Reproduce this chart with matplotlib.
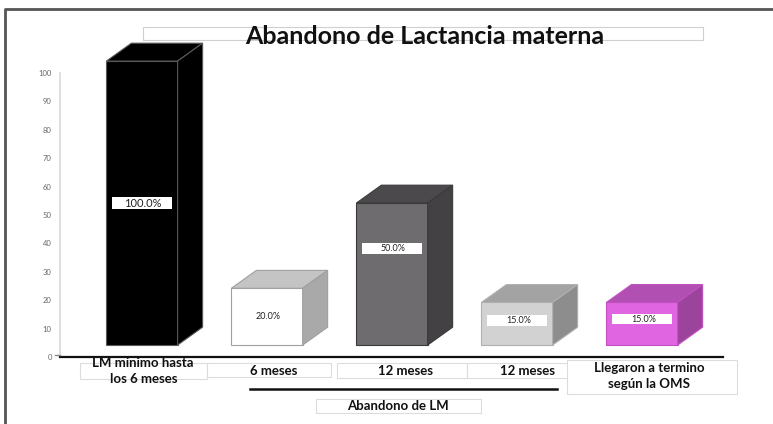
import matplotlib
matplotlib.use("Agg")
import matplotlib.pyplot as plt
from matplotlib.patches import Polygon, Rectangle
from matplotlib.lines import Line2D
from matplotlib.transforms import Affine2D, blended_transform_factory

plt.rcParams['font.family'] = ['Lato', 'DejaVu Sans']

# data
categories = ["LM mínimo hasta\nlos 6 meses", "6 meses", "12 meses", "12 meses",
              "Llegaron a termino\nsegún la OMS"]
values = [100, 20, 50, 15, 15]
value_labels = ["100.0%", "20.0%", "50.0%", "15.0%", "15.0%"]
group_label = "Abandono de LM"
title = "Abandono de Lactancia materna"

# styles: front, top, side
front_cols = ["#000000", "#ffffff", "#6f6c6f", "#d2d2d2", "#e065e0"]
top_cols = ["#000000", "#c4c4c4", "#4b494b", "#a3a3a3", "#b24fb2"]
side_cols = ["#000000", "#a9a9a9", "#434143", "#8d8d8d", "#9c449c"]
edge_cols = ["#5a5a5a", "#a0a0a0", "#3a3a3a", "#b0b0b0", "#c050c0"]
label_frac = [0.5, 0.5, 0.68, 0.57, 0.61]
label_box = [True, False, True, True, True]

W, H = 773, 424
fig = plt.figure(figsize=(W / 100, H / 100), dpi=100)
px = Affine2D().scale(1 / W, -1 / H).translate(0, 1) + fig.transFigure

ax = fig.add_axes([60 / W, (H - 357) / H, 663 / W, 284 / H])
ax.set_xlim(-0.656, 4.648)
ax.set_ylim(0, 100)

bw = 0.57
dx, dy = 0.2, 6.3
base = 4.2

xs = list(range(len(values)))
ax.bar(xs, values, width=bw, bottom=base, color=front_cols, edgecolor=edge_cols,
       linewidth=0.8, clip_on=False, zorder=3)
for x, v, tc, sc, ec in zip(xs, values, top_cols, side_cols, edge_cols):
    l, r, t = x - bw / 2, x + bw / 2, base + v
    ax.add_patch(Polygon([(l, t), (r, t), (r + dx, t + dy), (l + dx, t + dy)],
                         closed=True, fc=tc, ec=ec, lw=0.8, clip_on=False, zorder=3))
    ax.add_patch(Polygon([(r, base), (r + dx, base + dy), (r + dx, t + dy), (r, t)],
                         closed=True, fc=sc, ec=ec, lw=0.8, clip_on=False, zorder=3))

# value labels
for i, (x, v, lab) in enumerate(zip(xs, values, value_labels)):
    y = base + v * label_frac[i]
    fs = 8 if i == 0 else 6.5
    if label_box[i]:
        bh = 4.2 if i == 0 else 3.8
        ax.add_patch(Rectangle((x - 0.24, y - bh / 2), 0.48, bh, fc="white", ec="none",
                               zorder=4, clip_on=False))
    ax.text(x + 0.01, y, lab, ha="center", va="center", fontsize=fs, color="#222222",
            zorder=5)

# axes styling
ax.set_yticks(range(0, 101, 10))
ax.tick_params(axis="y", length=0, pad=6, labelsize=5.5, labelcolor="#666666")
ax.set_xticks([])
for s in ["top", "right"]:
    ax.spines[s].set_visible(False)
ax.spines["left"].set_color("#d9d9d9")
ax.spines["left"].set_linewidth(1.2)
ax.spines["bottom"].set_color("#111111")
ax.spines["bottom"].set_linewidth(1.6)
ax.set_yticklabels(["0"] + [str(t) for t in range(10, 101, 10)])
fig.add_artist(Line2D([55, 60], [355, 355], transform=px, color="#888888", lw=1))

# category labels with boxes
bt = blended_transform_factory(ax.transData, px)
cat_dx = [0.01, 0.05, 0.11, 0.08, 0.06]
cat_y = [371, 371, 371, 371, 376]
boxes = [(80, 363, 127, 16), (207, 363, 124, 14), (337, 363, 130, 15),
         (467, 363, 101, 15), (567, 360, 170, 34)]
for (bx, by, bw_, bh_) in boxes:
    fig.add_artist(Rectangle((bx, by), bw_, bh_, transform=px, fc="white",
                             ec="#dcdcdc", lw=0.8, zorder=-1))
for x, c, d, y in zip(xs, categories, cat_dx, cat_y):
    ax.text(x + d, y, c, transform=bt, ha="center", va="center", fontsize=9.5,
            fontweight="bold", color="#111111", linespacing=1.35, zorder=6)

# group bracket
fig.add_artist(Line2D([250, 557], [389, 389], transform=px, color="#111111", lw=1.8))
fig.add_artist(Rectangle((316, 399), 165, 14, transform=px, fc="white", ec="#dcdcdc", lw=0.8))
fig.text(398 / W, 1 - 406 / H, group_label, ha="center", va="center", fontsize=9.5,
         fontweight="bold", color="#111111")

# title
fig.add_artist(Rectangle((143, 27), 560, 13, transform=px, fc="white", ec="#d0d0d0", lw=0.8))
fig.text(425 / W, 1 - 36 / H, title, ha="center", va="center", fontsize=18,
         fontweight="bold", color="#111111")

# frame
fig.add_artist(Line2D([5, 5, 773], [424, 9, 9], transform=px, color="#555555", lw=2))

fig.savefig("out.png", dpi=100)
